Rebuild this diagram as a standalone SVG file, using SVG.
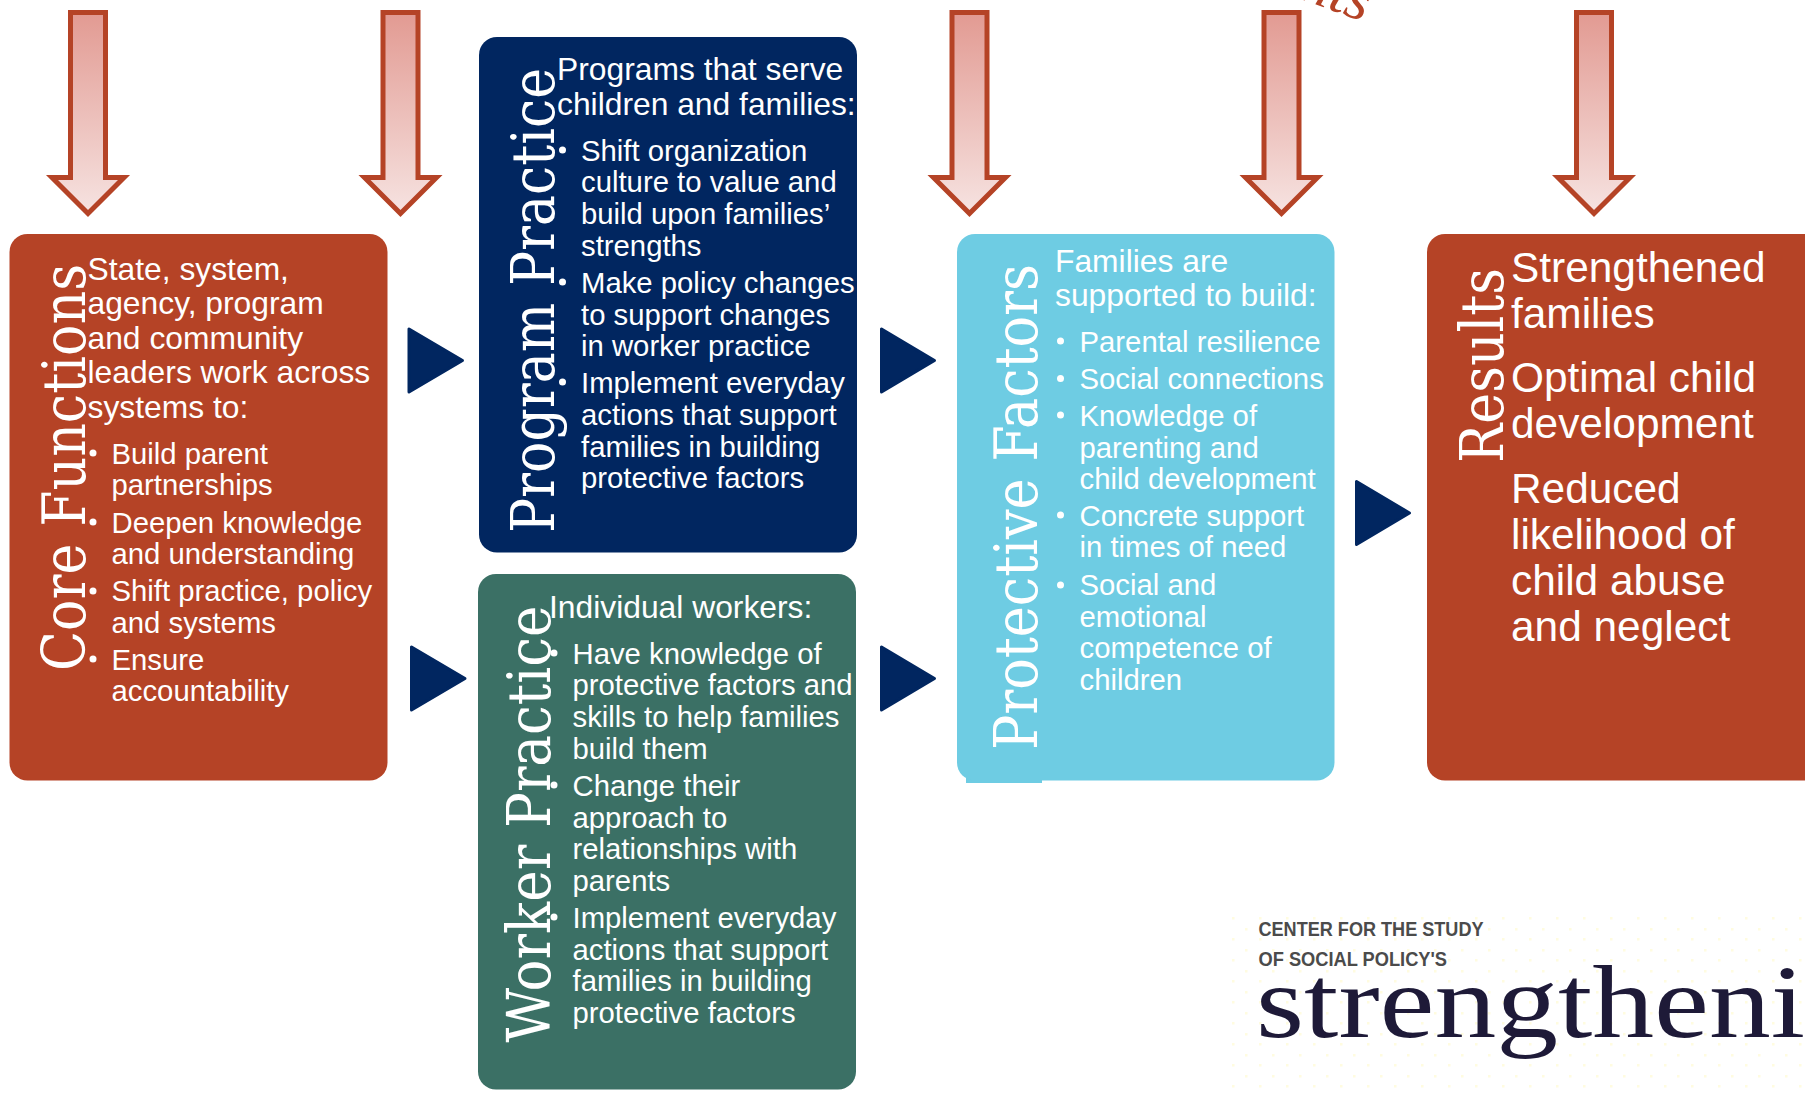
<svg xmlns="http://www.w3.org/2000/svg" width="1805" height="1095" viewBox="0 0 1805 1095">
<style>
text{font-family:"Liberation Sans",Arial,sans-serif;fill:#fff}
.h{font-size:31.800px}
.b{font-size:29.300px}
.r{font-size:42.400px}
.t{font-family:"DejaVu Serif","Liberation Serif",serif;font-size:60px}
.frag{font-family:"Liberation Serif",serif;font-style:italic;font-size:60px;fill:#B54326}
.dot{fill:#fff}
.tri{fill:#012660;stroke:#012660;stroke-width:3;stroke-linejoin:round}
.ar{fill:url(#ag);stroke:#B54326;stroke-width:5}
</style>
<defs>
<linearGradient id="ag" x1="0" y1="0" x2="0" y2="1"><stop offset="0" stop-color="#E29A92"/><stop offset="1" stop-color="#F6E3E1"/></linearGradient>
<path id="down" d="M-17.500 12.500V177.500H-36L0 213.500L36 177.500H17.500V12.500Z"/>
<pattern id="specks" width="27" height="21" patternUnits="userSpaceOnUse"><rect x="3" y="4" width="2.500" height="2.500" fill="#FFFCE0"/><rect x="17" y="14" width="2.500" height="2.500" fill="#FFFCE0"/></pattern>
</defs>
<rect width="1805" height="1095" fill="#fff"/>

<g id="fragments">
<text class="frag" transform="translate(1298 -2) rotate(20)">nts</text>
<text class="frag" transform="translate(1722 -15) rotate(10)">g</text>
</g>

<g id="connectors">
<use href="#down" x="88" class="ar"/>
<use href="#down" x="400.500" class="ar"/>
<use href="#down" x="969.500" class="ar"/>
<use href="#down" x="1281.500" class="ar"/>
<use href="#down" x="1594" class="ar"/>
<path class="tri" d="M409 329V392L462.500 360.500Z"/>
<path class="tri" d="M411.500 647V710L465 678.500Z"/>
<path class="tri" d="M881.500 329V392L934.500 360.500Z"/>
<path class="tri" d="M881.500 647V710L934.500 678.500Z"/>
<path class="tri" d="M1356.500 481.500V544.500L1409.500 513Z"/>
</g>

<g id="core-functions">
<rect x="9.500" y="234" width="378" height="546.500" rx="18" fill="#B54326"/>
<text class="t" transform="translate(85 671) rotate(-90)" textLength="407" lengthAdjust="spacingAndGlyphs">Core Functions</text>
<text class="h" x="87.500" y="279.500">State, system,</text>
<text class="h" x="87.500" y="313.500">agency, program</text>
<text class="h" x="87.500" y="348.500">and community</text>
<text class="h" x="87.500" y="383">leaders work across</text>
<text class="h" x="87.500" y="417.500">systems to:</text>
<circle class="dot" cx="93" cy="453" r="3.500"/><circle class="dot" cx="93" cy="522" r="3.500"/><circle class="dot" cx="93" cy="591" r="3.500"/><circle class="dot" cx="93" cy="659" r="3.500"/>
<text class="b" x="111.500" y="464">Build parent</text>
<text class="b" x="111.500" y="495">partnerships</text>
<text class="b" x="111.500" y="533">Deepen knowledge</text>
<text class="b" x="111.500" y="564">and understanding</text>
<text class="b" x="111.500" y="601">Shift practice, policy</text>
<text class="b" x="111.500" y="633">and systems</text>
<text class="b" x="111.500" y="670">Ensure</text>
<text class="b" x="111.500" y="701">accountability</text>
</g>

<g id="program-practice">
<rect x="479" y="37" width="378" height="515.500" rx="18" fill="#012660"/>
<text class="t" transform="translate(554 533) rotate(-90)" textLength="465" lengthAdjust="spacingAndGlyphs">Program Practice</text>
<text class="h" x="557" y="80">Programs that serve</text>
<text class="h" x="557" y="114.500">children and families:</text>
<circle class="dot" cx="562.500" cy="150" r="3.500"/><circle class="dot" cx="562.500" cy="282" r="3.500"/><circle class="dot" cx="562.500" cy="382" r="3.500"/>
<text class="b" x="581" y="161">Shift organization</text>
<text class="b" x="581" y="192">culture to value and</text>
<text class="b" x="581" y="224">build upon families’</text>
<text class="b" x="581" y="256">strengths</text>
<text class="b" x="581" y="293">Make policy changes</text>
<text class="b" x="581" y="325">to support changes</text>
<text class="b" x="581" y="356">in worker practice</text>
<text class="b" x="581" y="393">Implement everyday</text>
<text class="b" x="581" y="425">actions that support</text>
<text class="b" x="581" y="457">families in building</text>
<text class="b" x="581" y="488">protective factors</text>
</g>

<g id="worker-practice">
<rect x="478" y="574" width="378" height="515.500" rx="18" fill="#3B7065"/>
<text class="t" transform="translate(550 1042.500) rotate(-90)" textLength="437" lengthAdjust="spacingAndGlyphs">Worker Practice</text>
<text class="h" x="549" y="617.500">Individual workers:</text>
<circle class="dot" cx="554" cy="653" r="3.500"/><circle class="dot" cx="554" cy="785" r="3.500"/><circle class="dot" cx="554" cy="917" r="3.500"/>
<text class="b" x="572.500" y="664">Have knowledge of</text>
<text class="b" x="572.500" y="695">protective factors and</text>
<text class="b" x="572.500" y="727">skills to help families</text>
<text class="b" x="572.500" y="759">build them</text>
<text class="b" x="572.500" y="796">Change their</text>
<text class="b" x="572.500" y="828">approach to</text>
<text class="b" x="572.500" y="859">relationships with</text>
<text class="b" x="572.500" y="891">parents</text>
<text class="b" x="572.500" y="928">Implement everyday</text>
<text class="b" x="572.500" y="960">actions that support</text>
<text class="b" x="572.500" y="991">families in building</text>
<text class="b" x="572.500" y="1023">protective factors</text>
</g>

<g id="protective-factors">
<rect x="966" y="770" width="76" height="13" fill="#6ECCE3"/>
<rect x="957" y="234" width="377.500" height="546.500" rx="18" fill="#6ECCE3"/>
<text class="t" transform="translate(1037 750) rotate(-90)" textLength="486" lengthAdjust="spacingAndGlyphs">Protective Factors</text>
<text class="h" x="1055" y="272">Families are</text>
<text class="h" x="1055" y="306">supported to build:</text>
<circle class="dot" cx="1060.500" cy="341" r="3.500"/><circle class="dot" cx="1060.500" cy="378.500" r="3.500"/><circle class="dot" cx="1060.500" cy="415" r="3.500"/><circle class="dot" cx="1060.500" cy="515" r="3.500"/><circle class="dot" cx="1060.500" cy="585" r="3.500"/>
<text class="b" x="1079.500" y="352">Parental resilience</text>
<text class="b" x="1079.500" y="389">Social connections</text>
<text class="b" x="1079.500" y="426">Knowledge of</text>
<text class="b" x="1079.500" y="458">parenting and</text>
<text class="b" x="1079.500" y="489">child development</text>
<text class="b" x="1079.500" y="526">Concrete support</text>
<text class="b" x="1079.500" y="557">in times of need</text>
<text class="b" x="1079.500" y="595">Social and</text>
<text class="b" x="1079.500" y="626.500">emotional</text>
<text class="b" x="1079.500" y="658">competence of</text>
<text class="b" x="1079.500" y="690">children</text>
</g>

<g id="results">
<rect x="1427" y="234" width="395" height="546.500" rx="18" fill="#B54326"/>
<text class="t" transform="translate(1503 463) rotate(-90)" textLength="195" lengthAdjust="spacingAndGlyphs">Results</text>
<text class="r" x="1511" y="282">Strengthened</text>
<text class="r" x="1511" y="328">families</text>
<text class="r" x="1511" y="392">Optimal child</text>
<text class="r" x="1511" y="438">development</text>
<text class="r" x="1511" y="503">Reduced</text>
<text class="r" x="1511" y="549">likelihood of</text>
<text class="r" x="1511" y="595">child abuse</text>
<text class="r" x="1511" y="641">and neglect</text>
</g>

<g id="logo">
<rect x="1225" y="912" width="580" height="183" fill="url(#specks)"/>
<text x="1258.500" y="936" textLength="225" lengthAdjust="spacingAndGlyphs" style="font-size:21px;fill:#4b4b4b;font-weight:bold">CENTER FOR THE STUDY</text>
<text x="1258.500" y="966" textLength="188.500" lengthAdjust="spacingAndGlyphs" style="font-size:21px;fill:#4b4b4b;font-weight:bold">OF SOCIAL POLICY'S</text>
<text x="1256" y="1036.500" textLength="549" lengthAdjust="spacingAndGlyphs" style="font-family:'Liberation Serif',serif;font-size:104px;fill:#1E1A38">strengtheni</text>
</g>
</svg>
